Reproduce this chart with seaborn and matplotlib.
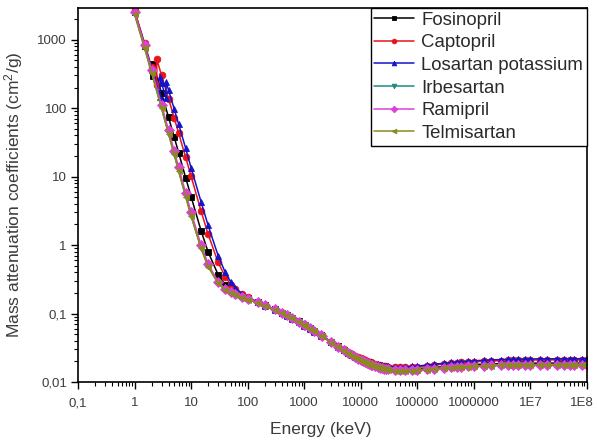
import matplotlib
matplotlib.use("Agg")
import matplotlib.pyplot as plt
import matplotlib.ticker as mticker
import matplotlib.transforms as mtransforms
import numpy as np
import pandas as pd
import seaborn as sns

# ---------------- data ----------------
energy_kev = [1, 1.5, 2, 3, 4, 5, 6, 8, 10, 15, 20, 30, 40, 50, 60, 80, 100, 150, 200, 300,
              400, 500, 600, 800, 1000, 1022, 1250, 1500, 2000, 2044, 3000, 4000, 5000, 6000,
              7000, 8000, 9000, 10000, 11000, 12000, 13000, 14000, 15000, 16000, 18000, 20000,
              22000, 24000, 26000, 28000, 30000, 40000, 50000, 60000, 80000, 1e5, 1.5e5, 2e5,
              3e5, 4e5, 5e5, 6e5, 8e5, 1e6, 1.5e6, 2e6, 3e6, 4e6, 5e6, 6e6, 8e6, 1e7, 1.5e7,
              2e7, 3e7, 4e7, 5e7, 6e7, 8e7, 1e8]

fosinopril = [2514, 821.1, 361.9, 166.0, 73.0, 38.25, 22.46, 9.68, 5.080, 1.618, 0.792, 0.3698,
              0.2634, 0.2224, 0.2014, 0.1794, 0.1667, 0.1467, 0.1335, 0.1156, 0.1034, 0.0943,
              0.0873, 0.0767, 0.0688,
              0.0681, 0.0616, 0.0560, 0.0481, 0.0475, 0.0386, 0.0330, 0.0295, 0.0267, 0.0248,
              0.0234, 0.0222, 0.0212, 0.0205, 0.0198, 0.0193, 0.0188, 0.0184, 0.0180, 0.0175,
              0.0170, 0.0167, 0.0164, 0.0162, 0.0160, 0.0158, 0.0154, 0.0153, 0.0153, 0.0154,
              0.0157, 0.0160, 0.0163, 0.0168, 0.0171, 0.0173, 0.0175, 0.0178, 0.0180, 0.0182,
              0.0183, 0.0185, 0.0186, 0.0187, 0.0187, 0.0188, 0.0188, 0.0189, 0.0189, 0.0189,
              0.0189, 0.0189, 0.0189, 0.0189, 0.0189]
fosinopril_edge_kev = [2.1455, 2.1455]
fosinopril_edge = [295.5, 437.3]

captopril = [2687, 890.8, 397.6, 299.9, 136.1, 72.9, 43.46, 19.12, 10.12, 3.127, 1.439, 0.561,
             0.3463, 0.2654, 0.2266, 0.1908, 0.1732, 0.1481, 0.1335, 0.1150, 0.1029, 0.0938,
             0.0867, 0.0762, 0.0684,
             0.0677, 0.0613, 0.0558, 0.0482, 0.0476, 0.0390, 0.0335, 0.0301, 0.0274, 0.0255,
             0.0241, 0.0229, 0.0221, 0.0214, 0.0207, 0.0203, 0.0198, 0.0194, 0.0190, 0.0185,
             0.0179, 0.0176, 0.0173, 0.0171, 0.0169, 0.0167, 0.0163, 0.0163, 0.0163, 0.0165,
             0.0168, 0.0173, 0.0177, 0.0183, 0.0187, 0.0190, 0.0193, 0.0196, 0.0198, 0.0201,
             0.0203, 0.0205, 0.0207, 0.0207, 0.0208, 0.0209, 0.0209, 0.0210, 0.0210, 0.0211,
             0.0211, 0.0211, 0.0211, 0.0211, 0.0211]
captopril_edge_kev = [2.472, 2.472]
captopril_edge = [215.6, 520.7]

losartan = [2592, 859.3, 384.1, 233.2, 181.7, 98.3, 58.65, 26.04, 13.40, 4.274, 1.933, 0.704,
            0.4012, 0.2913, 0.2397, 0.1942, 0.1732, 0.1457, 0.1308, 0.1125, 0.1003, 0.0914,
            0.0845, 0.0743, 0.0666,
            0.0660, 0.0598, 0.0545, 0.0472, 0.0466, 0.0382, 0.0329, 0.0297, 0.0271, 0.0253,
            0.0240, 0.0228, 0.0220, 0.0214, 0.0207, 0.0203, 0.0198, 0.0194, 0.0191, 0.0186,
            0.0181, 0.0178, 0.0175, 0.0173, 0.0172, 0.0170, 0.0166, 0.0166, 0.0166, 0.0169,
            0.0171, 0.0177, 0.0182, 0.0188, 0.0193, 0.0196, 0.0199, 0.0202, 0.0204, 0.0208,
            0.0210, 0.0213, 0.0214, 0.0215, 0.0216, 0.0217, 0.0217, 0.0218, 0.0218, 0.0219,
            0.0219, 0.0219, 0.0219, 0.0219, 0.0219]
losartan_edge_kev = [2.822, 2.822, 3.607, 3.607]
losartan_edge = [143.8, 280.4, 138.4, 242.8]

irbesartan = [2370, 761.0, 331.6, 99.99, 42.07, 21.38, 12.28, 5.150, 2.671, 0.9013, 0.4877,
              0.2772, 0.2228, 0.2000, 0.1870, 0.1716, 0.1613, 0.1435, 0.1309, 0.1136, 0.1017,
              0.0928, 0.0858, 0.0754, 0.0678,
              0.0670, 0.0606, 0.0551, 0.0473, 0.0467, 0.0378, 0.0323, 0.0288, 0.0261, 0.0241,
              0.0227, 0.0215, 0.0206, 0.0199, 0.0192, 0.0187, 0.0182, 0.0178, 0.0174, 0.0169,
              0.0164, 0.0161, 0.0158, 0.0156, 0.0154, 0.0152, 0.0148, 0.0147, 0.0147, 0.0148,
              0.0150, 0.0153, 0.0156, 0.0160, 0.0163, 0.0165, 0.0167, 0.0169, 0.0171, 0.0173,
              0.0174, 0.0176, 0.0177, 0.0177, 0.0178, 0.0178, 0.0178, 0.0179, 0.0179, 0.0179,
              0.0179, 0.0179, 0.0179, 0.0179, 0.0179]

ramipril = [2572, 835.1, 366.4, 111.5, 47.14, 24.03, 13.83, 5.808, 3.008, 1.000, 0.5296, 0.2907,
            0.2296, 0.2044, 0.1903, 0.1739, 0.1633, 0.1451, 0.1323, 0.1148, 0.1028, 0.0939,
            0.0867, 0.0762, 0.0685,
            0.0678, 0.0612, 0.0556, 0.0478, 0.0472, 0.0382, 0.0326, 0.0290, 0.0263, 0.0244,
            0.0229, 0.0217, 0.0208, 0.0201, 0.0194, 0.0189, 0.0184, 0.0180, 0.0176, 0.0170,
            0.0165, 0.0162, 0.0159, 0.0157, 0.0155, 0.0153, 0.0149, 0.0148, 0.0148, 0.0149,
            0.0151, 0.0154, 0.0157, 0.0161, 0.0164, 0.0166, 0.0168, 0.0170, 0.0172, 0.0174,
            0.0175, 0.0177, 0.0178, 0.0178, 0.0179, 0.0179, 0.0179, 0.0180, 0.0180, 0.0180,
            0.0180, 0.0180, 0.0180, 0.0180, 0.0180]

telmisartan = [2349, 753.5, 328.2, 98.94, 41.63, 21.15, 12.15, 5.093, 2.642, 0.8924, 0.4831,
               0.2752, 0.2212, 0.1987, 0.1859, 0.1704, 0.1602, 0.1425, 0.1300, 0.1128, 0.1010,
               0.0922, 0.0852, 0.0749, 0.0673,
               0.0666, 0.0602, 0.0547, 0.0470, 0.0464, 0.0376, 0.0321, 0.0286, 0.0259, 0.0240,
               0.0226, 0.0214, 0.0205, 0.0198, 0.0191, 0.0186, 0.0181, 0.0177, 0.0173, 0.0168,
               0.0163, 0.0160, 0.0157, 0.0155, 0.0153, 0.0151, 0.0147, 0.0146, 0.0146, 0.0147,
               0.0149, 0.0152, 0.0155, 0.0159, 0.0162, 0.0164, 0.0166, 0.0168, 0.0170, 0.0172,
               0.0173, 0.0175, 0.0176, 0.0176, 0.0177, 0.0177, 0.0177, 0.0178, 0.0178, 0.0178,
               0.0178, 0.0178, 0.0178, 0.0178, 0.0178]

compounds = ["Fosinopril", "Captopril", "Losartan potassium", "Irbesartan", "Ramipril", "Telmisartan"]
x_tick_values = [0.1, 1, 10, 100, 1000, 1e4, 1e5, 1e6, 1e7, 1e8]
x_tick_labels = ["0,1", "1", "10", "100", "1000", "10000", "100000", "1000000", "1E7", "1E8"]
y_tick_values = [0.01, 0.1, 1, 10, 100, 1000]
y_tick_labels = ["0,01", "0,1", "1", "10", "100", "1000"]

# ---------------- assemble long table ----------------
series = {
    "Fosinopril": (energy_kev + fosinopril_edge_kev, fosinopril + fosinopril_edge),
    "Captopril": (energy_kev + captopril_edge_kev, captopril + captopril_edge),
    "Losartan potassium": (energy_kev + losartan_edge_kev, losartan + losartan_edge),
    "Irbesartan": (energy_kev, irbesartan),
    "Ramipril": (energy_kev, ramipril),
    "Telmisartan": (energy_kev, telmisartan),
}
frames = []
for name in compounds:
    e, m = series[name]
    d = pd.DataFrame({"Energy": e, "mu": m, "Compound": name})
    d = d.sort_values("Energy", kind="mergesort")
    frames.append(d)
df = pd.concat(frames, ignore_index=True)

# ---------------- style ----------------
sns.set_style("ticks")
plt.rcParams["font.family"] = ["Liberation Sans", "DejaVu Sans"]
plt.rcParams["mathtext.default"] = "regular"

palette = {"Fosinopril": "#000000", "Captopril": "#e8141a", "Losartan potassium": "#1414c8",
           "Irbesartan": "#1f8a80", "Ramipril": "#dd3fd8", "Telmisartan": "#8a8a1e"}
markers = {"Fosinopril": "s", "Captopril": "o", "Losartan potassium": "^",
           "Irbesartan": "v", "Ramipril": "D", "Telmisartan": "<"}

fig = plt.figure(figsize=(5.97, 4.41), dpi=100)
ax = fig.add_axes([78 / 597, 1 - 382 / 441, (587 - 78) / 597, (382 - 8) / 441])

sns.lineplot(data=df, x="Energy", y="mu", hue="Compound", style="Compound",
             hue_order=compounds, style_order=compounds, palette=palette,
             markers=markers, dashes=False, estimator=None, sort=False,
             linewidth=1.1, markersize=4.8, ax=ax)

for ln in ax.lines:
    ln.set_markeredgecolor(ln.get_color())
    ln.set_markeredgewidth(0.6)

ax.set_xscale("log")
ax.set_yscale("log")
ax.set_xlim(0.1, 1e8)
ax.set_ylim(0.01, 2900)

ax.xaxis.set_major_locator(mticker.FixedLocator(x_tick_values))
ax.xaxis.set_major_formatter(mticker.FixedFormatter(x_tick_labels))
ax.xaxis.set_minor_locator(mticker.LogLocator(base=10, subs=np.arange(2, 10), numticks=30))
ax.xaxis.set_minor_formatter(mticker.NullFormatter())
ax.yaxis.set_major_locator(mticker.FixedLocator(y_tick_values))
ax.yaxis.set_major_formatter(mticker.FixedFormatter(y_tick_labels))
ax.yaxis.set_minor_locator(mticker.LogLocator(base=10, subs=np.arange(2, 10), numticks=30))
ax.yaxis.set_minor_formatter(mticker.NullFormatter())

label_color = "#3c3c3c"
ax.tick_params(axis="both", which="major", direction="out", length=5, width=1.0,
               labelsize=9.5, labelcolor=label_color, colors="black", pad=3)
ax.tick_params(axis="x", which="major", pad=6)
ax.tick_params(axis="both", which="minor", direction="out", length=3, width=0.8, colors="black")
ax.tick_params(top=False, right=False, which="both")
for sp in ax.spines.values():
    sp.set_visible(True)
    sp.set_color("black")
    sp.set_linewidth(1.2)

# keep the last x tick label inside the picture
fig.canvas.draw()
last = ax.get_xticklabels()[-1]
last.set_transform(last.get_transform() +
                   mtransforms.ScaledTranslation(-5 / 100, 0, fig.dpi_scale_trans))

ax.set_xlabel("Energy (keV)", fontsize=12.5, color=label_color)
ax.xaxis.set_label_coords(0.477, -0.106)
ax.set_ylabel("Mass attenuation coefficients (cm$^2$/g)", fontsize=12.5, color=label_color)
ax.yaxis.set_label_coords(-0.104, 0.5)

handles, labels = ax.get_legend_handles_labels()
leg = ax.legend(handles, labels, loc="upper right", borderaxespad=0, frameon=True,
                fancybox=False, edgecolor="black", framealpha=1, fontsize=13.4,
                handlelength=2.15, handletextpad=0.38, labelspacing=0.3, borderpad=0.2,
                markerscale=0.7)
leg.get_frame().set_linewidth(1.0)
for t in leg.get_texts():
    t.set_color("#2a2a2a")

fig.savefig("out.png", dpi=100, facecolor="white")
